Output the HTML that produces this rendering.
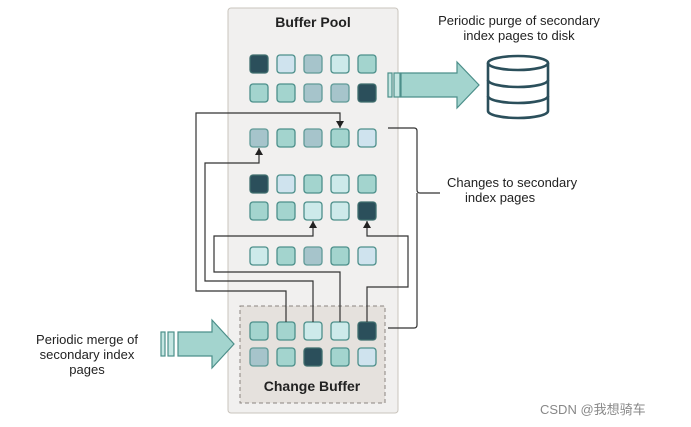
<!DOCTYPE html>
<html><head><meta charset="utf-8"><style>
body{margin:0;background:#fff;}
svg{display:block;font-family:"Liberation Sans","Noto Sans CJK SC",sans-serif;}
</style></head><body>
<svg width="691" height="427" viewBox="0 0 691 427">
<defs>
<marker id="ah" markerWidth="8" markerHeight="8" refX="7" refY="4" orient="auto" markerUnits="userSpaceOnUse">
<path d="M0,0 L7,4 L0,8 Z" fill="#222"/></marker>
</defs>
<rect x="228" y="8" width="170" height="405" rx="3" fill="#f1f0ef" stroke="#c9c4bd"/>
<text x="313" y="27" font-size="14" font-weight="bold" text-anchor="middle" fill="#222">Buffer Pool</text>
<rect x="240" y="306" width="145" height="97" fill="#e5e1dd" stroke="#8a8580" stroke-dasharray="4,3"/>
<text x="312" y="391" font-size="14" font-weight="bold" text-anchor="middle" fill="#222">Change Buffer</text>
<g stroke-width="1.3">
<rect x="250" y="55" width="18" height="18" rx="3" fill="#2b4f5b" stroke="#3f6e6e"/>
<rect x="277" y="55" width="18" height="18" rx="3" fill="#cfe3ee" stroke="#4c8f8a"/>
<rect x="304" y="55" width="18" height="18" rx="3" fill="#a6c4cb" stroke="#5f9a97"/>
<rect x="331" y="55" width="18" height="18" rx="3" fill="#cdeaea" stroke="#4c8f8a"/>
<rect x="358" y="55" width="18" height="18" rx="3" fill="#a3d4ce" stroke="#4c8f8a"/>

<rect x="250" y="84" width="18" height="18" rx="3" fill="#a3d4ce" stroke="#4c8f8a"/>
<rect x="277" y="84" width="18" height="18" rx="3" fill="#a3d4ce" stroke="#4c8f8a"/>
<rect x="304" y="84" width="18" height="18" rx="3" fill="#a6c4cb" stroke="#5f9a97"/>
<rect x="331" y="84" width="18" height="18" rx="3" fill="#a6c4cb" stroke="#5f9a97"/>
<rect x="358" y="84" width="18" height="18" rx="3" fill="#2b4f5b" stroke="#3f6e6e"/>

<rect x="250" y="129" width="18" height="18" rx="3" fill="#a6c4cb" stroke="#5f9a97"/>
<rect x="277" y="129" width="18" height="18" rx="3" fill="#a3d4ce" stroke="#4c8f8a"/>
<rect x="304" y="129" width="18" height="18" rx="3" fill="#a6c4cb" stroke="#5f9a97"/>
<rect x="331" y="129" width="18" height="18" rx="3" fill="#a3d4ce" stroke="#4c8f8a"/>
<rect x="358" y="129" width="18" height="18" rx="3" fill="#cfe3ee" stroke="#4c8f8a"/>

<rect x="250" y="175" width="18" height="18" rx="3" fill="#2b4f5b" stroke="#3f6e6e"/>
<rect x="277" y="175" width="18" height="18" rx="3" fill="#cfe3ee" stroke="#4c8f8a"/>
<rect x="304" y="175" width="18" height="18" rx="3" fill="#a3d4ce" stroke="#4c8f8a"/>
<rect x="331" y="175" width="18" height="18" rx="3" fill="#cdeaea" stroke="#4c8f8a"/>
<rect x="358" y="175" width="18" height="18" rx="3" fill="#a3d4ce" stroke="#4c8f8a"/>

<rect x="250" y="202" width="18" height="18" rx="3" fill="#a3d4ce" stroke="#4c8f8a"/>
<rect x="277" y="202" width="18" height="18" rx="3" fill="#a3d4ce" stroke="#4c8f8a"/>
<rect x="304" y="202" width="18" height="18" rx="3" fill="#cdeaea" stroke="#4c8f8a"/>
<rect x="331" y="202" width="18" height="18" rx="3" fill="#cdeaea" stroke="#4c8f8a"/>
<rect x="358" y="202" width="18" height="18" rx="3" fill="#2b4f5b" stroke="#3f6e6e"/>

<rect x="250" y="247" width="18" height="18" rx="3" fill="#cdeaea" stroke="#4c8f8a"/>
<rect x="277" y="247" width="18" height="18" rx="3" fill="#a3d4ce" stroke="#4c8f8a"/>
<rect x="304" y="247" width="18" height="18" rx="3" fill="#a6c4cb" stroke="#5f9a97"/>
<rect x="331" y="247" width="18" height="18" rx="3" fill="#a3d4ce" stroke="#4c8f8a"/>
<rect x="358" y="247" width="18" height="18" rx="3" fill="#cfe3ee" stroke="#4c8f8a"/>

<rect x="250" y="322" width="18" height="18" rx="3" fill="#a3d4ce" stroke="#4c8f8a"/>
<rect x="277" y="322" width="18" height="18" rx="3" fill="#a3d4ce" stroke="#4c8f8a"/>
<rect x="304" y="322" width="18" height="18" rx="3" fill="#cdeaea" stroke="#4c8f8a"/>
<rect x="331" y="322" width="18" height="18" rx="3" fill="#cdeaea" stroke="#4c8f8a"/>
<rect x="358" y="322" width="18" height="18" rx="3" fill="#2b4f5b" stroke="#3f6e6e"/>

<rect x="250" y="348" width="18" height="18" rx="3" fill="#a6c4cb" stroke="#5f9a97"/>
<rect x="277" y="348" width="18" height="18" rx="3" fill="#a3d4ce" stroke="#4c8f8a"/>
<rect x="304" y="348" width="18" height="18" rx="3" fill="#2b4f5b" stroke="#3f6e6e"/>
<rect x="331" y="348" width="18" height="18" rx="3" fill="#a3d4ce" stroke="#4c8f8a"/>
<rect x="358" y="348" width="18" height="18" rx="3" fill="#cfe3ee" stroke="#4c8f8a"/>
</g>
<g fill="none" stroke="#333" stroke-width="1.2">
<path d="M286,322 V291 H196 V113 H340 V128" marker-end="url(#ah)"/>
<path d="M313,322 V281 H205 V163 H259 V148" marker-end="url(#ah)"/>
<path d="M340,322 V272 H214 V236 H313 V221" marker-end="url(#ah)"/>
<path d="M367,322 V287 H408 V236 H367 V221" marker-end="url(#ah)"/>
<path d="M388,128 H414 Q417,128 417,131 V190 Q417,193 420,193 H440 M417,193 V325 Q417,328 414,328 H388"/>
</g>
<text font-size="13" fill="#222" x="447" y="187">Changes to secondary</text>
<text font-size="13" fill="#222" x="465" y="202">index pages</text>
<text font-size="13" fill="#222" x="519" y="25" text-anchor="middle">Periodic purge of secondary</text>
<text font-size="13" fill="#222" x="519" y="40" text-anchor="middle">index pages to disk</text>
<g fill="#a3d4ce" stroke="#4c8f8a" stroke-width="1.2">
<rect x="388" y="73" width="4" height="24" fill="#c5e6e2"/>
<rect x="394" y="73" width="6" height="24" fill="#c5e6e2"/>
<path d="M401,73 H457 V62 L479,85 L457,108 V97 H401 Z"/>
<rect x="161" y="332" width="4" height="24" fill="#c5e6e2"/>
<rect x="168" y="332" width="6" height="24" fill="#c5e6e2"/>
<path d="M178,332 H212 V320 L234,344 L212,368 V356 H178 Z"/>
</g>
<g fill="none" stroke="#2b4f5b" stroke-width="2.6">
<ellipse cx="518" cy="63" rx="30" ry="7"/>
<path d="M488,63 V111 A30,7 0 0 0 548,111 V63"/>
<path d="M488,80 A30,7 0 0 0 548,80 M488,96 A30,7 0 0 0 548,96"/>
</g>
<text font-size="13" fill="#222" x="87" y="344" text-anchor="middle">Periodic merge of</text>
<text font-size="13" fill="#222" x="87" y="359" text-anchor="middle">secondary index</text>
<text font-size="13" fill="#222" x="87" y="374" text-anchor="middle">pages</text>
<text font-size="13" fill="#888" x="540" y="414">CSDN @我想骑车</text>
</svg>
</body></html>
